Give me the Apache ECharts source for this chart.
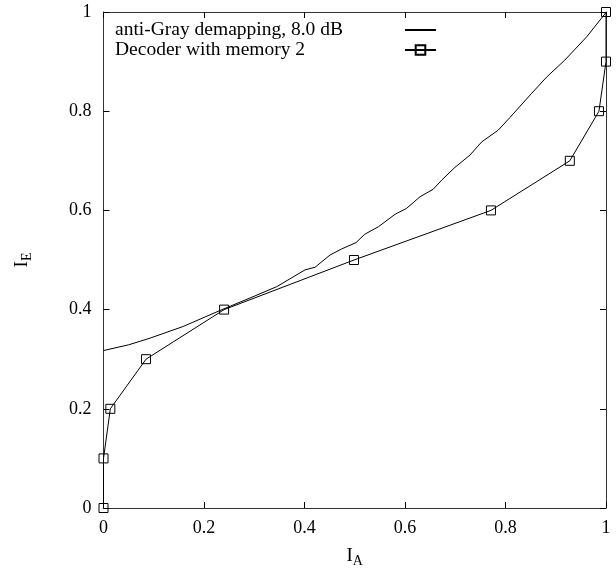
<!DOCTYPE html>
<html>
<head>
<meta charset="utf-8">
<script src="https://cdn.jsdelivr.net/npm/echarts@6/dist/echarts.min.js"></script>
<style>
html,body{margin:0;padding:0;background:#fff;}
#chart{width:616px;height:569px;}
</style>
</head>
<body>
<div id="chart"></div>
<script>
// anti-Gray demapping, 8.0 dB
var antiGrayX = [0, 0.05, 0.0925, 0.158, 0.2378, 0.3, 0.3447, 0.401, 0.421, 0.4507, 0.474, 0.5025, 0.520, 0.547, 0.580, 0.603, 0.630, 0.656, 0.673, 0.6995, 0.7294, 0.7526, 0.7857, 0.809, 0.852, 0.882, 0.918, 0.9616, 1.0];
var antiGrayY = [0.3174, 0.329, 0.3424, 0.3658, 0.4008, 0.427, 0.4463, 0.480, 0.4854, 0.510, 0.5223, 0.535, 0.552, 0.567, 0.592, 0.604, 0.6276, 0.6425, 0.661, 0.6868, 0.7116, 0.738, 0.762, 0.7875, 0.836, 0.869, 0.903, 0.950, 0.999];
// Decoder with memory 2
var decoderX = [0, 0, 0.0136, 0.0846, 0.24, 0.4985, 0.771, 0.928, 0.986, 1.0, 1.0];
var decoderY = [0, 0.1, 0.2, 0.3, 0.4, 0.5, 0.6, 0.7, 0.8, 0.9, 1.0];
var seriesNames = ['anti-Gray demapping, 8.0 dB', 'Decoder with memory 2'];
var xName = 'I';
var xSub = 'A';
var yName = 'I';
var ySub = 'E';

function pairs(xs, ys) { return xs.map(function (x, i) { return [x, ys[i]]; }); }

var FONT = 'Liberation Serif';
var chart = echarts.init(document.getElementById('chart'), null, {renderer: 'canvas', width: 616, height: 569});

function axisCommon(showLabel) {
  return {
    type: 'value', min: 0, max: 1, interval: 0.2,
    splitLine: {show: false},
    axisLine: {show: true, onZero: false, lineStyle: {color: '#333', width: 1}},
    axisTick: {show: true, inside: true, length: 6, lineStyle: {color: '#000', width: 1}},
    axisLabel: {show: showLabel, color: '#000', fontFamily: FONT, fontSize: 18}
  };
}

var xMain = axisCommon(true);
xMain.position = 'bottom';
xMain.axisLabel.margin = 11;
xMain.name = '{b|' + xName + '}{s|' + xSub + '}';
xMain.nameLocation = 'middle';
xMain.nameGap = 36;
xMain.nameTextStyle = {rich: {
  b: {fontFamily: FONT, fontSize: 19, color: '#000'},
  s: {fontFamily: FONT, fontSize: 14, color: '#000', verticalAlign: 'bottom', padding: [10, 0, 0, 0]}
}};
var xTop = axisCommon(false);
xTop.position = 'top';

var yMain = axisCommon(true);
yMain.position = 'left';
yMain.axisLabel.margin = 12;
yMain.name = '{b|' + yName + '}{s|' + ySub + '}';
yMain.nameLocation = 'middle';
yMain.nameRotate = 90;
yMain.nameGap = 69;
yMain.nameTextStyle = {rich: {
  b: {fontFamily: FONT, fontSize: 19, color: '#000'},
  s: {fontFamily: FONT, fontSize: 14, color: '#000', verticalAlign: 'bottom', padding: [10, 0, 0, 0]}
}};
var yRight = axisCommon(false);
yRight.position = 'right';

chart.setOption({
  animation: false,
  backgroundColor: '#fff',
  grid: {left: 103.5, right: 10, top: 12, bottom: 61, containLabel: false, outerBoundsMode: 'none'},
  legend: {
    show: true,
    orient: 'vertical',
    left: 110, top: 15,
    align: 'right',
    itemGap: 0,
    itemWidth: 31, itemHeight: 12,
    formatter: function (name) { return '{t|' + name + '}'; },
    textStyle: {
      fontFamily: FONT, fontSize: 19, color: '#000',
      rich: {t: {fontFamily: FONT, fontSize: 19.5, lineHeight: 20, color: '#000', width: 285, align: 'left'}}
    },
    data: seriesNames
  },
  xAxis: [xMain, xTop],
  yAxis: [yMain, yRight],
  series: [
    {
      name: seriesNames[0], type: 'line', xAxisIndex: 0, yAxisIndex: 0,
      data: pairs(antiGrayX, antiGrayY),
      symbol: 'circle', showSymbol: false, symbolSize: 0,
      lineStyle: {color: '#000', width: 1},
      itemStyle: {color: 'rgba(0,0,0,0)'}
    },
    {
      name: seriesNames[1], type: 'line', xAxisIndex: 0, yAxisIndex: 0,
      data: pairs(decoderX, decoderY),
      symbol: 'rect', symbolSize: 9,
      lineStyle: {color: '#000', width: 1},
      itemStyle: {color: 'rgba(0,0,0,0)', borderColor: '#000', borderWidth: 1}
    }
  ]
});
</script>
</body>
</html>
